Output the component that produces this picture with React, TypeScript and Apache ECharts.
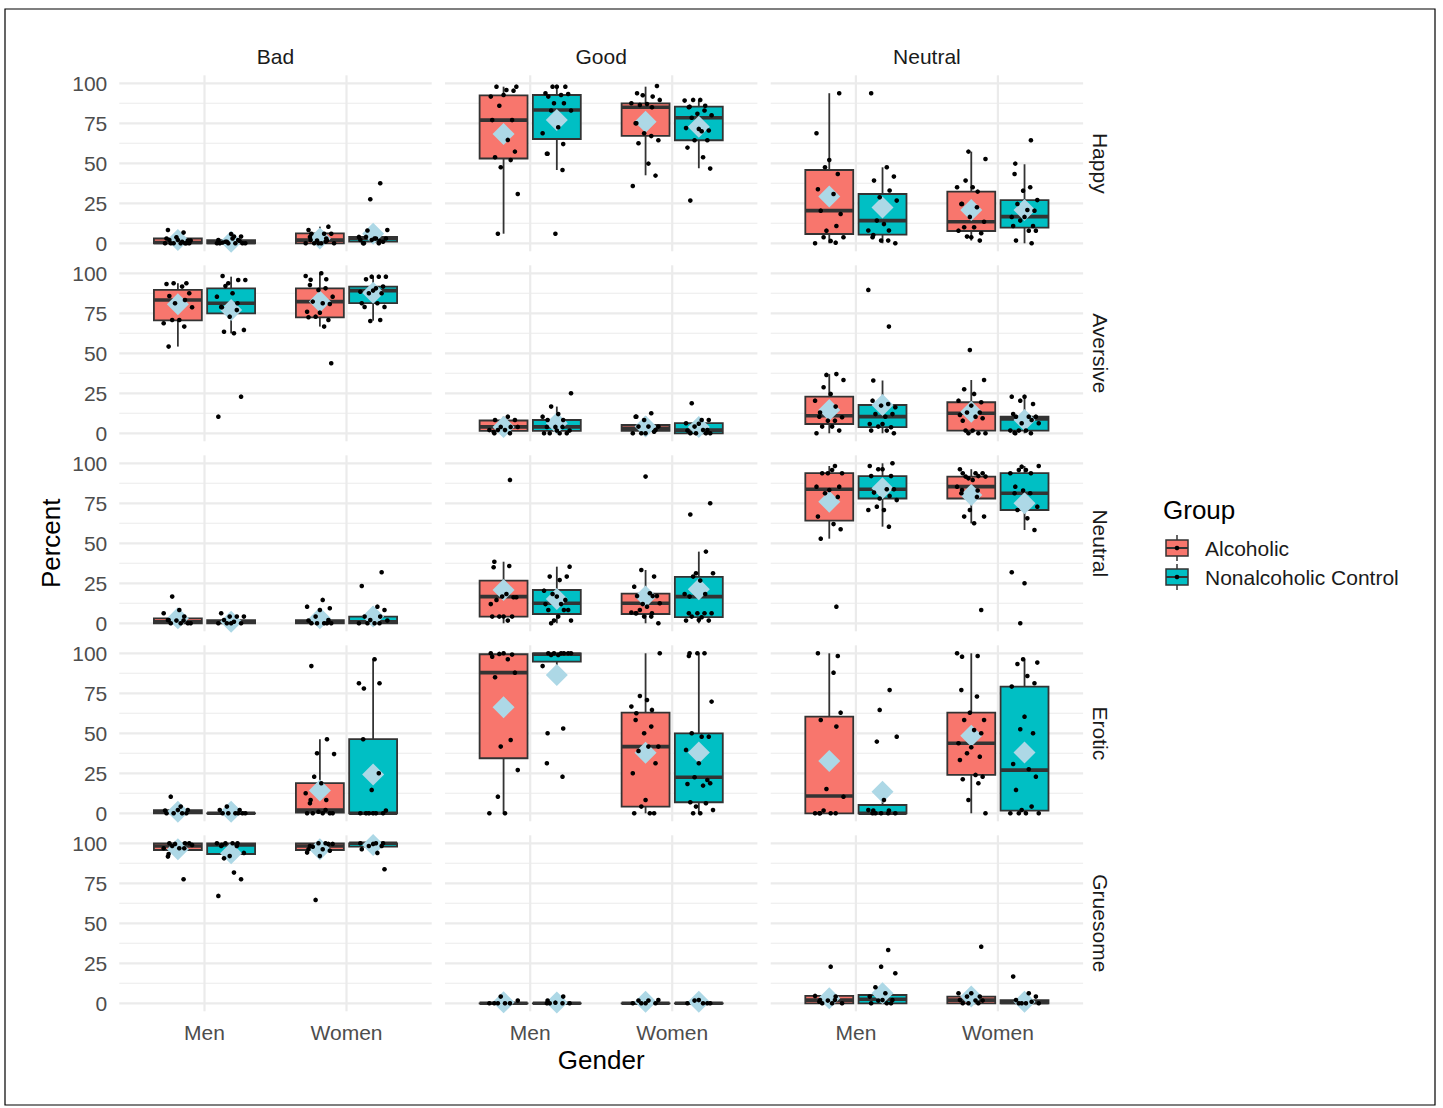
import React, { useEffect, useRef } from 'react';
import * as echarts from 'echarts';

// ---------- categories ----------
const EMOTIONS = ['Happy', 'Aversive', 'Neutral', 'Erotic', 'Gruesome'];
const VALENCES = ['Bad', 'Good', 'Neutral'];
const GENDERS = ['Men', 'Women'];
const GROUPS = ['Alcoholic', 'Nonalcoholic Control'];
const Y_TICKS = [0, 25, 50, 75, 100];
const Y_MINOR = [12.5, 37.5, 62.5, 87.5];
const X_TICKS = [1, 2];

// box stats per valence column [Bad, Good, Neutral] -> [MenAlc, MenNon, WomenAlc, WomenNon] -> [min, q1, median, q3, max]
const HAPPY_BOX = [
  [[0, 0, 0.5, 3, 6.7], [0, 0, 0.5, 2, 4.2], [0, 0, 2, 6.2, 10.4], [0, 1, 3, 4, 8.3]],
  [[6, 53, 77, 92.5, 97.9], [45.8, 65.2, 83.3, 92.7, 97.9], [42.5, 67.1, 85, 87.5, 97.9], [46.9, 64.4, 78.5, 85.4, 89.6]],
  [[0, 5.8, 20.4, 45.8, 93.8], [0, 5.4, 14.2, 30.8, 47.5], [1.7, 7.7, 13.5, 32.3, 57.3], [0, 9.8, 16.7, 27, 49.4]],
];
const AVERSIVE_BOX = [
  [[54.2, 70.6, 83.3, 89.6, 93.8], [62.5, 75, 81.3, 90.6, 97.9], [66.7, 72.5, 82.3, 90.6, 99.6], [70.4, 81.3, 89.2, 91.7, 97.9]],
  [[0, 1.5, 4, 8, 10.4], [0, 1.5, 4, 8.3, 16.7], [0, 1.5, 3.1, 5.2, 10.4], [0, 0, 2, 6.3, 8.3]],
  [[0, 5.8, 11, 22.9, 37], [0, 3.8, 10.4, 17.7, 33], [0, 1.7, 12.5, 19.4, 33.3], [0, 1.7, 9, 10.4, 22.9]],
];
const NEUTRAL_BOX = [
  [[0, 0, 1, 3.1, 6.3], [0, 0, 0.8, 2, 4.2], [0, 0, 1, 2, 4.2], [0, 0, 1, 4.2, 10.4]],
  [[0, 4.2, 16.7, 26.7, 38.5], [0, 5.8, 12.5, 20.8, 35.4], [0, 5.8, 12.5, 18.5, 33.3], [0, 3.8, 16.7, 29, 44.8]],
  [[52.9, 64.2, 83.8, 93.8, 98.3], [60.4, 78, 83.8, 92, 100], [62.5, 78, 85.4, 91.7, 96.3], [58.3, 70.8, 81.3, 93.8, 98.3]],
];
const EROTIC_BOX = [
  [[0, 0, 1, 2, 4.2], [0, 0, 0, 0, 0], [0, 0.4, 2, 18.8, 46.3], [0, 0, 0, 46.3, 96.3]],
  [[0, 34.4, 87.9, 99.4, 100], [92, 94.8, 99.4, 100, 100], [0, 4.2, 41.7, 62.9, 100], [0, 6.9, 22.5, 50, 100]],
  [[0, 0, 10.8, 60.4, 100], [0, 0, 0, 5.2, 8.3], [0, 24, 43.8, 62.9, 100], [0, 1.7, 27, 79.2, 96.3]],
];
const GRUESOME_BOX = [
  [[90.6, 95.8, 98.3, 100, 100], [90.6, 93.3, 99, 100, 100], [92, 95.8, 98.3, 100, 100], [96.3, 97.9, 100, 100, 100]],
  [[0, 0, 0, 0, 0], [0, 0, 0, 0, 0], [0, 0, 0, 0, 0], [0, 0, 0, 0, 0]],
  [[0, 0, 2, 4.6, 4.6], [0, 0, 2.5, 5.2, 6.3], [0, 0, 2, 4.2, 6.3], [0, 0, 0.5, 2, 2]],
];

// means (diamonds)
const HAPPY_MEAN = [[2, 1, 3, 6], [68.3, 77.1, 76, 72.9], [29.2, 22.3, 20.8, 20.8]];
const AVERSIVE_MEAN = [[80.6, 77, 82.3, 87.9], [4, 6.3, 4.2, 4], [14.6, 17.7, 13.5, 8.3]];
const NEUTRAL_MEAN = [[3.1, 1, 3.1, 4.2], [20.8, 15.2, 16.7, 21.3], [76, 84.4, 80.2, 75]];
const EROTIC_MEAN = [[1, 1, 14.2, 24.2], [66.3, 86.5, 37.9, 38], [32.7, 13.5, 48.5, 38]];
const GRUESOME_MEAN = [[96.3, 93.8, 96.3, 99], [0.6, 0.5, 1, 1], [3.1, 6.3, 4.2, 1]];

// individual observations
const HAPPY_PTS = [
  [
    [8.3, 6.7, 3.8, 1.7, 0, 0, 1.7, 0, 2, 0, 0, 3, 1, 0, 2, 0],
    [4.2, 4.2, 2, 5.8, 1, 1.5, 0, 0, 0, 0.5, 2, 0, 0, 1, 3, 0],
    [10.4, 8.3, 6, 6, 6, 1.7, 1.7, 0, 0, 0, 0, 3, 2, 4, 1, 0],
    [37.5, 27.5, 8.3, 8, 3, 4, 1.5, 0, 0, 0, 2, 3, 4, 3, 1, 2],
  ],
  [
    [97.9, 97.9, 95.8, 95.4, 91.7, 92.7, 86, 77, 77, 64.6, 57.3, 53.8, 52, 47.5, 30.8, 6],
    [97.9, 97.9, 97.9, 93.8, 92.7, 93.3, 91.7, 87.5, 87.5, 83, 83, 72.5, 68.8, 62, 56, 56, 45.8, 6],
    [98.3, 93.8, 91.7, 92.5, 89.6, 86.5, 87, 87.5, 85, 75, 75, 67, 68.8, 64.4, 62.5, 49.8, 42.3, 35.8],
    [89.6, 89.6, 89.2, 86, 85.4, 85, 83, 81, 80, 78.5, 70, 70.5, 72, 71.5, 64.4, 64.4, 59.8, 53.8, 46.7, 26.7],
  ],
  [
    [93.8, 68.8, 52, 47.5, 43.3, 33.8, 30.8, 18.3, 20.4, 10.8, 7.9, 3.8, 3.8, 1.5, 0, 0.4],
    [93.8, 47.5, 41.7, 39.2, 33, 28.8, 26.7, 14.2, 12, 8, 8, 5.2, 3.8, 1.7, 1.7, 0],
    [57.3, 52.7, 39.2, 35, 35, 32.3, 24.6, 24.6, 22.5, 16.5, 13.5, 10, 10, 6.3, 7.9, 3.8, 4.2, 1.7],
    [64.4, 49.8, 43.3, 35, 32.9, 27, 24.6, 20.8, 20.4, 16.5, 16.5, 14.2, 10.8, 10.8, 7.9, 7.9, 1.7, 0],
  ],
];
const AVERSIVE_PTS = [
  [
    [93.8, 93.8, 93.3, 91.7, 87.5, 85.8, 83.3, 81.3, 78.8, 70.8, 70.8, 68.8, 66.7, 54.2],
    [98.3, 95.8, 93.8, 95.8, 92, 87.5, 85.4, 81.3, 78.8, 79, 77, 72.9, 64.6, 63.5, 62.5, 22.9, 10.4],
    [100, 98.3, 96.3, 96, 92.7, 90.6, 89.6, 85.4, 82.3, 81.3, 80.8, 76, 75.4, 72.9, 70.8, 72.5, 66.7, 43.8],
    [97.9, 97.9, 97.9, 96.3, 90.6, 91.7, 88.5, 89.2, 87.5, 87.5, 81.3, 81.3, 79, 79, 70.8, 70.2],
  ],
  [
    [10.4, 8.3, 8.3, 4, 4, 4, 2, 2, 2, 0, 0, 1],
    [25, 16.7, 12, 10.4, 8.3, 8.3, 4, 4, 4, 1.7, 0, 0, 0, 0, 1.7],
    [10.4, 10.4, 12.5, 8.3, 4.2, 4.2, 4.2, 2, 0, 0, 0, 1],
    [18.8, 8.3, 8.3, 6.3, 6, 4.2, 2, 1.7, 2, 0, 0, 0, 0],
  ],
  [
    [37, 36.5, 33.3, 28.8, 24.6, 20.4, 16.7, 13, 10.4, 7.9, 7.9, 10, 4.2, 4.2, 1.7, 0],
    [89.6, 66.7, 33, 20.4, 18.3, 17.3, 16.3, 12, 10.4, 12, 5.8, 5.8, 4.2, 3.8, 1.7, 1.7, 0],
    [52, 33.3, 27.5, 24.6, 19.4, 20.4, 17.3, 13, 13, 11.5, 10.4, 9.4, 7.9, 0, 0, 0, 1.7, 1.7],
    [22.9, 22.9, 20.4, 18.3, 12, 10.4, 10.4, 10.4, 8.3, 6.3, 6.3, 1.7, 1.7, 1.7, 0, 0, 0.4],
  ],
];
const NEUTRAL_PTS = [
  [
    [16.7, 8.3, 6.3, 4.2, 2, 2, 1.7, 1.7, 0, 0, 0, 0],
    [6.3, 4.2, 4.2, 4.2, 2, 1, 0, 0, 0, 0],
    [14.6, 9.4, 10.4, 8.3, 4.2, 2, 1.7, 0, 0, 0, 0, 0],
    [31.9, 23.3, 10.4, 8.3, 4.2, 4.2, 2, 1.7, 0, 0, 0, 0],
  ],
  [
    [89.6, 38.5, 35, 35.8, 16.7, 16.3, 14.6, 18.3, 16.3, 12, 4.2, 4.2, 4.2, 4.2, 1.7],
    [35.4, 29.2, 27, 29.2, 20.4, 16.7, 18.3, 14.6, 12, 12, 8.3, 8.3, 8.3, 1.7, 1.7, 0, 4.2],
    [91.7, 33.3, 29.2, 22.9, 18.8, 17, 17, 17, 12, 12.5, 8.3, 10.4, 6.7, 6.3, 6.3, 6.3, 4.2, 4.2, 0],
    [75, 68, 44.8, 31.3, 31.3, 29.2, 26.7, 18.3, 18.3, 16.7, 6.3, 6.3, 6.3, 6.3, 4.2, 3.8, 1.7, 1.7, 2],
  ],
  [
    [98.3, 93.8, 93.8, 93.8, 95.8, 85.4, 85.4, 83.3, 81.3, 79, 66.7, 62, 58.8, 52.9, 10.4],
    [100, 98.3, 96.3, 96.3, 92, 92, 83.8, 83.8, 81.7, 79.6, 78, 77, 72.9, 70.8, 70.8, 60.4],
    [96.3, 93.8, 93.8, 93.8, 92, 90.6, 91.7, 91.7, 89.6, 85.4, 83, 83.3, 81.3, 79, 70.8, 66.7, 66.7, 62.5, 8.3],
    [97.9, 98.3, 95.8, 95.8, 93.8, 93.8, 85.4, 81.3, 81.3, 83, 72.9, 70.8, 65.6, 58.3, 31.9, 25, 0],
  ],
];
const EROTIC_PTS = [
  [
    [10.4, 4.2, 2, 1.7, 2, 0, 0, 0, 0],
    [4.2, 2, 2, 0, 0, 0, 0, 0, 0],
    [92, 46.3, 37.5, 37, 22.9, 18.8, 12.5, 8.3, 8.3, 6.3, 2, 1, 0, 0, 0, 0, 0],
    [96.3, 81.3, 81.3, 78, 46.3, 25, 14.6, 1.7, 0, 0, 0, 0, 0, 0],
  ],
  [
    [100, 100, 99.6, 99.2, 97.9, 96.3, 87.9, 85, 45.8, 41.7, 27, 10.4, 0, 0],
    [100, 100, 100, 100, 100, 100, 99, 99, 92, 53, 50, 31.3, 22.9],
    [100, 73.3, 70.8, 66.7, 64.6, 62.5, 58.3, 54.2, 50, 41.7, 39, 41.7, 31.3, 25, 8.3, 4.2, 0, 0, 0],
    [100, 98.3, 100, 100, 69.8, 50, 47.9, 47.9, 39.6, 31.3, 22.5, 20.8, 18.3, 17.3, 18.8, 6.9, 6.3, 4.2, 2, 0, 0],
  ],
  [
    [98.3, 100, 87.9, 62.9, 58.3, 54.2, 15.2, 10.4, 1.7, 0, 0, 0, 0, 0],
    [77, 64.6, 47.9, 44.8, 8.3, 2, 1.7, 1.7, 0, 0, 0, 0, 0],
    [100, 98.3, 97.9, 77, 73, 62.9, 58.3, 58.3, 52, 50, 43.8, 41.3, 37.5, 35.4, 33.3, 24, 22.9, 21.3, 18.8, 8.3, 0],
    [96.3, 94.2, 93.3, 85.8, 81.3, 79.2, 60.4, 52.5, 50, 30.8, 27.5, 22.9, 14.6, 4.2, 2, 0, 0, 0, 0],
  ],
];
const GRUESOME_PTS = [
  [
    [100, 100, 100, 99.6, 99, 98.3, 96.9, 96.9, 96.9, 93.3, 91.7, 77.5],
    [100, 100, 100, 100, 99, 98.3, 98.3, 92, 94, 90.6, 81.7, 77.5, 67.1],
    [98.3, 100, 100, 99.6, 97.9, 96.3, 95.4, 94.2, 92, 64.6, 99.6, 96.3],
    [100, 100, 100, 99.6, 98.3, 98.3, 96.3, 94, 83.8],
  ],
  [
    [4.2, 1.7, 0, 0, 0, 0, 0],
    [4.2, 1.7, 0, 0, 0.4, 0, 0],
    [2, 1.7, 1.7, 0, 0, 0, 0],
    [2, 1.7, 0, 0, 0, 0],
  ],
  [
    [22.9, 4.6, 4.2, 2, 1, 2, 1.7, 0, 0, 0],
    [33.3, 22.9, 18.8, 10, 6.3, 2, 4.2, 2, 1.7, 0, 0, 0],
    [35.4, 6.3, 6.3, 4.2, 4.2, 2, 1.7, 1.7, 0, 0, 0],
    [16.7, 6.3, 4.2, 2, 1, 0, 0, 0, 0],
  ],
];

// fixed horizontal jitter pattern for the dots (in x-axis units)
const JITTER = [-0.07, 0.04, -0.01, 0.09, -0.05, 0.02, 0.07, -0.09, 0.0, -0.03, 0.06, -0.08, 0.03, 0.08, -0.06, 0.05, -0.02, 0.1, -0.04, 0.01, -0.1, 0.045, -0.065];

const ROWS = [
  { box: HAPPY_BOX, mean: HAPPY_MEAN, pts: HAPPY_PTS },
  { box: AVERSIVE_BOX, mean: AVERSIVE_MEAN, pts: AVERSIVE_PTS },
  { box: NEUTRAL_BOX, mean: NEUTRAL_MEAN, pts: NEUTRAL_PTS },
  { box: EROTIC_BOX, mean: EROTIC_MEAN, pts: EROTIC_PTS },
  { box: GRUESOME_BOX, mean: GRUESOME_MEAN, pts: GRUESOME_PTS },
];

// ---------- layout / style ----------
const W = 1443;
const H = 1108;
const FONT = '"Liberation Sans", Arial, Helvetica, sans-serif';
const COL_LEFT = [119.3, 445.0, 770.7];
const PANEL_W = 312.4;
const ROW_TOP0 = 75.3;
const ROW_STEP = 190;
const PANEL_H = 176;
const DODGE = [-0.1875, 0.1875];
const BOX_W = 0.3375;
const COLORS = ['#F8766D', '#00BFC4'];
const EDGE = '#333333';
const GRID_COLOR = '#EBEBEB';
const MEAN_COLOR = '#ADD8E6';

function buildOption() {
  const grid: any[] = [];
  const xAxis: any[] = [];
  const yAxis: any[] = [];
  const series: any[] = [];

  const gridLines: number[][] = [
    ...Y_TICKS.map((v) => [0, v, 1]),
    ...Y_MINOR.map((v) => [0, v, 0]),
    ...X_TICKS.map((v) => [1, v, 1]),
  ];

  ROWS.forEach((row, r) => {
    VALENCES.forEach((_, c) => {
      const i = r * 3 + c;
      grid.push({ left: COL_LEFT[c], top: ROW_TOP0 + r * ROW_STEP, width: PANEL_W, height: PANEL_H });
      xAxis.push({
        gridIndex: i,
        type: 'value',
        min: 0.4,
        max: 2.6,
        axisLine: { show: false },
        axisTick: { show: false },
        splitLine: { show: false },
        axisLabel: {
          show: r === ROWS.length - 1,
          customValues: X_TICKS,
          formatter: (v: number) => GENDERS[Math.round(v) - 1] || '',
          color: '#4D4D4D',
          fontSize: 21,
          fontFamily: FONT,
          margin: 11,
        },
      });
      yAxis.push({
        gridIndex: i,
        type: 'value',
        min: -5,
        max: 105,
        axisLine: { show: false },
        axisTick: { show: false },
        splitLine: { show: false },
        axisLabel: {
          show: c === 0,
          customValues: Y_TICKS,
          color: '#4D4D4D',
          fontSize: 21,
          fontFamily: FONT,
          margin: 12,
        },
      });

      // grid lines
      series.push({
        type: 'custom',
        xAxisIndex: i,
        yAxisIndex: i,
        silent: true,
        z: 0,
        data: gridLines,
        renderItem: (params: any, api: any) => {
          const cs = params.coordSys;
          const o = api.value(0);
          const v = api.value(1);
          const lw = api.value(2) ? 2.2 : 1.1;
          if (o === 0) {
            const y = api.coord([1, v])[1];
            return { type: 'line', shape: { x1: cs.x, y1: y, x2: cs.x + cs.width, y2: y }, style: { stroke: GRID_COLOR, lineWidth: lw } };
          }
          const x = api.coord([v, 0])[0];
          return { type: 'line', shape: { x1: x, y1: cs.y, x2: x, y2: cs.y + cs.height }, style: { stroke: GRID_COLOR, lineWidth: lw } };
        },
      });

      const boxData: number[][] = [];
      const meanData: number[][] = [];
      const ptData: number[][] = [];
      row.box[c].forEach((st, b) => {
        const gender = b >> 1;
        const g = b & 1;
        const xc = 1 + gender + DODGE[g];
        boxData.push([xc, st[0], st[1], st[2], st[3], st[4], g]);
        meanData.push([xc, row.mean[c][b]]);
        row.pts[c][b].forEach((y, j) => {
          ptData.push([xc + JITTER[(j + b * 5 + i * 3) % JITTER.length], y]);
        });
      });

      series.push({
        type: 'custom',
        name: 'box',
        xAxisIndex: i,
        yAxisIndex: i,
        silent: true,
        z: 2,
        data: boxData,
        encode: { x: 0, y: [1, 2, 3, 4, 5] },
        renderItem: (params: any, api: any) => {
          const xc = api.value(0);
          const g = api.value(6);
          const half = api.size([BOX_W, 0])[0] / 2;
          const pMin = api.coord([xc, api.value(1)]);
          const pQ1 = api.coord([xc, api.value(2)]);
          const pMed = api.coord([xc, api.value(3)]);
          const pQ3 = api.coord([xc, api.value(4)]);
          const pMax = api.coord([xc, api.value(5)]);
          return {
            type: 'group',
            children: [
              { type: 'line', shape: { x1: pMax[0], y1: pMax[1], x2: pQ3[0], y2: pQ3[1] }, style: { stroke: EDGE, lineWidth: 1.8 } },
              { type: 'line', shape: { x1: pQ1[0], y1: pQ1[1], x2: pMin[0], y2: pMin[1] }, style: { stroke: EDGE, lineWidth: 1.8 } },
              {
                type: 'rect',
                shape: { x: pQ3[0] - half, y: pQ3[1], width: 2 * half, height: Math.max(pQ1[1] - pQ3[1], 0.01) },
                style: { fill: COLORS[g], stroke: EDGE, lineWidth: 1.8 },
              },
              { type: 'line', shape: { x1: pMed[0] - half, y1: pMed[1], x2: pMed[0] + half, y2: pMed[1] }, style: { stroke: EDGE, lineWidth: 3.6 } },
            ],
          };
        },
      });

      series.push({
        type: 'scatter',
        name: 'mean',
        xAxisIndex: i,
        yAxisIndex: i,
        silent: true,
        z: 3,
        symbol: 'diamond',
        symbolSize: 22,
        itemStyle: { color: MEAN_COLOR, opacity: 1 },
        data: meanData,
      });

      series.push({
        type: 'scatter',
        name: 'points',
        xAxisIndex: i,
        yAxisIndex: i,
        silent: true,
        z: 4,
        symbol: 'circle',
        symbolSize: 4.6,
        itemStyle: { color: '#000000', opacity: 1 },
        data: ptData,
      });
    });
  });

  const graphic: any[] = [];
  // frame
  graphic.push({ type: 'rect', shape: { x: 5, y: 9, width: 1430, height: 1096 }, style: { fill: 'none', stroke: '#000', lineWidth: 1.2 }, silent: true });
  // column strips
  VALENCES.forEach((v, c) => {
    graphic.push({
      type: 'text',
      x: COL_LEFT[c] + PANEL_W / 2,
      y: 56,
      style: { text: v, fontSize: 21, fontFamily: FONT, fill: '#1A1A1A', align: 'center', verticalAlign: 'middle' },
    });
  });
  // row strips
  EMOTIONS.forEach((e, r) => {
    graphic.push({
      type: 'text',
      x: 1100,
      y: ROW_TOP0 + r * ROW_STEP + PANEL_H / 2,
      rotation: -Math.PI / 2,
      style: { text: e, fontSize: 21, fontFamily: FONT, fill: '#1A1A1A', align: 'center', verticalAlign: 'middle' },
    });
  });
  // axis titles
  graphic.push({
    type: 'text',
    x: 51,
    y: ROW_TOP0 + (ROW_STEP * 4 + PANEL_H) / 2,
    rotation: Math.PI / 2,
    style: { text: 'Percent', fontSize: 26, fontFamily: FONT, fill: '#000', align: 'center', verticalAlign: 'middle' },
  });
  graphic.push({
    type: 'text',
    x: COL_LEFT[0] + (COL_LEFT[2] + PANEL_W - COL_LEFT[0]) / 2,
    y: 1060,
    style: { text: 'Gender', fontSize: 26, fontFamily: FONT, fill: '#000', align: 'center', verticalAlign: 'middle' },
  });
  // legend
  graphic.push({
    type: 'text',
    x: 1163,
    y: 510,
    style: { text: 'Group', fontSize: 26, fontFamily: FONT, fill: '#000', align: 'left', verticalAlign: 'middle' },
  });
  GROUPS.forEach((gname, k) => {
    const cy = 548 + 29 * k;
    graphic.push({ type: 'line', shape: { x1: 1177, y1: cy - 13, x2: 1177, y2: cy + 13 }, style: { stroke: EDGE, lineWidth: 1.5 } });
    graphic.push({ type: 'rect', shape: { x: 1166, y: cy - 8, width: 22, height: 16 }, style: { fill: COLORS[k], stroke: EDGE, lineWidth: 1.5 } });
    graphic.push({ type: 'line', shape: { x1: 1166, y1: cy, x2: 1188, y2: cy }, style: { stroke: EDGE, lineWidth: 2 } });
    graphic.push({ type: 'circle', shape: { cx: 1177, cy, r: 2.3 }, style: { fill: '#000' } });
    graphic.push({
      type: 'text',
      x: 1205,
      y: cy,
      style: { text: gname, fontSize: 21, fontFamily: FONT, fill: '#1A1A1A', align: 'left', verticalAlign: 'middle' },
    });
  });

  return {
    animation: false,
    backgroundColor: '#ffffff',
    textStyle: { fontFamily: FONT },
    grid,
    xAxis,
    yAxis,
    series,
    graphic,
  };
}

export default function App() {
  const ref = useRef<HTMLDivElement>(null);
  useEffect(() => {
    const chart = echarts.init(ref.current as HTMLDivElement, null, { renderer: 'svg' });
    chart.setOption(buildOption() as any);
    return () => chart.dispose();
  }, []);
  return <div ref={ref} style={{ position: 'absolute', left: 0, top: 0, width: W, height: H, background: '#fff' }} />;
}
